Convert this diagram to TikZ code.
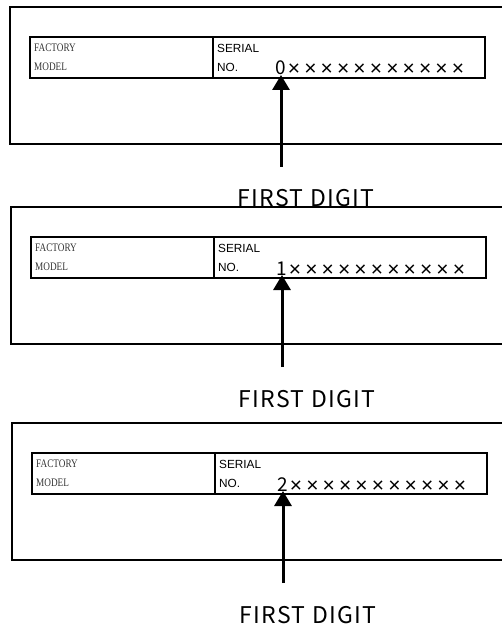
\documentclass[tikz,border=0pt]{standalone}
\usepackage{fontspec}
\setmainfont{Liberation Serif}
\setsansfont{Liberation Sans}
\newfontfamily\digitfont{Noto Sans CJK SC}
\newfontfamily\spaceddigitfont[LetterSpace=6]{Noto Sans CJK SC}
\usetikzlibrary{arrows,arrows.meta,positioning,calc}

\tikzset{
  platebox/.style={draw, line width=1.5pt},
  tagline/.style={draw, line width=1.5pt},
  smallserif/.style={font=\fontsize{11.5}{12}\selectfont, text=black!80, inner sep=0pt, anchor=west},
  smallsans/.style={font=\sffamily\fontsize{11.8}{12}\selectfont, inner sep=0pt, anchor=west},
  serialdigit/.style={font=\digitfont\fontsize{19}{19}\selectfont, inner sep=0pt, anchor=base},
  serialmark/.style={font=\sffamily\fontsize{21}{21}\selectfont, inner sep=0pt, anchor=base},
  digitlabel/.style={font=\spaceddigitfont\fontsize{23}{24}\selectfont, inner sep=0pt, anchor=base},
  firstarrow/.style={line width=3pt, -{Triangle[width=17pt,length=15pt]}},
}

\begin{document}
\begin{tikzpicture}[x=1pt,y=-1pt]
\path[use as bounding box] (0,0) rectangle (502,628);
\clip (0,0) rectangle (502,628);
\foreach \d/\o/\s in {0/0/0,1/200/1,2/416/2}{
  \draw[platebox] (10+\s,7+\o) rectangle (520,144+\o);
  \draw[tagline] (30+\s,37+\o) rectangle (485+\s,78+\o);
  \draw[tagline] (213+\s,37+\o) -- (213+\s,78+\o);
  \node[smallserif] (fac\d) at (34+\s,48+\o) {\scalebox{0.8}[1]{FACTORY}};
  \node[smallserif] (mod\d) at (34+\s,67+\o) {\scalebox{0.8}[1]{MODEL}};
  \node[smallsans] (ser\d) at (217+\s,48+\o) {SERIAL};
  \node[smallsans] (no\d) at (217+\s,67+\o) {NO.};
  \node[serialdigit] (dig\d) at (281+\s,75+\o) {\d};
  \foreach \k in {1,...,11}
    \node[serialmark] (x\d-\k) at (277.6+\s+16.4*\k,76+\o) {×};
  \node[digitlabel] (lbl\d) at (306+\s,207+\o) {FIRST DIGIT};
  \coordinate (tail\d) at (281+\s,167+\o);
  \draw[firstarrow] (tail\d) -- (dig\d.base);
}
\end{tikzpicture}
\end{document}
